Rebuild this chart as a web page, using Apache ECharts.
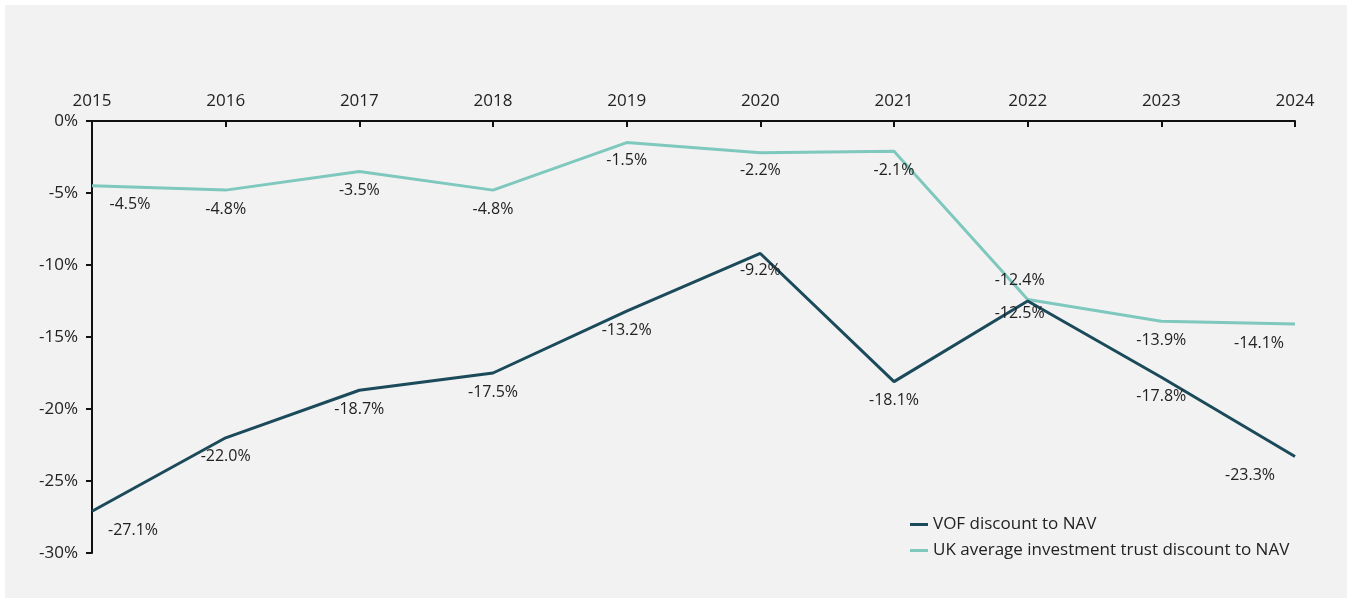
<!DOCTYPE html>
<html>
<head>
<meta charset="utf-8">
<script src="https://cdn.jsdelivr.net/npm/echarts@6/dist/echarts.min.js"></script>
<style>
  html, body { margin: 0; padding: 0; background: #ffffff; }
  #bg { position: absolute; left: 5px; top: 5px; width: 1342px; height: 593px; background: #f2f2f2; }
  #chart { position: absolute; left: 0; top: 0; width: 1352px; height: 603px; }
</style>
</head>
<body>
<div id="bg"></div>
<div id="chart"></div>
<script>
const years = ['2015','2016','2017','2018','2019','2020','2021','2022','2023','2024'];
const vofDiscount = [-27.1, -22.0, -18.7, -17.5, -13.2, -9.2, -18.1, -12.5, -17.8, -23.3];
const ukDiscount = [-4.5, -4.8, -3.5, -4.8, -1.5, -2.2, -2.1, -12.4, -13.9, -14.1];
const seriesNames = ['VOF discount to NAV', 'UK average investment trust discount to NAV'];

// label placement tweaks (styles, kept apart from data)
const vofLabelOffsets = [[41,0],[0,0],[0,0],[0,0],[0,0],[0,-2],[0,0],[-8,-7],[0,0],[-45,0]];
const ukLabelOffsets = [[38,0],[0,0],[0,0],[0,0],[0,-1],[0,-1],[0,0],[-8,0],[0,0],[-36,0]];
const ukLabelPos = ['bottom','bottom','bottom','bottom','bottom','bottom','bottom','top','bottom','bottom'];

const FONT = '"Open Sans", Lato, sans-serif';

function buildData(values, offsets, positions) {
  return values.map((v, i) => ({
    value: v,
    label: { offset: offsets[i], position: positions ? positions[i] : 'bottom' }
  }));
}

const chart = echarts.init(document.getElementById('chart'));
chart.setOption({
  backgroundColor: 'transparent',
  animation: false,
  textStyle: { fontFamily: FONT },
  grid: { left: 92, right: 57, top: 121, bottom: 50 },
  legend: {
    orient: 'vertical',
    left: 905,
    top: 511,
    itemWidth: 18,
    itemHeight: 3,
    itemGap: 9,
    icon: 'rect',
    textStyle: { fontSize: 17, color: '#222', fontFamily: FONT },
    data: seriesNames
  },
  xAxis: {
    type: 'category',
    position: 'top',
    boundaryGap: false,
    data: years,
    axisLine: { lineStyle: { color: '#111', width: 2 } },
    axisTick: { inside: true, length: 6, lineStyle: { color: '#111', width: 2 } },
    axisLabel: { fontSize: 17, color: '#222', margin: 11, fontFamily: FONT },
    splitLine: { show: false }
  },
  yAxis: {
    type: 'value',
    min: -30,
    max: 0,
    interval: 5,
    axisLine: { show: true, lineStyle: { color: '#111', width: 2 } },
    axisTick: { show: true, length: 6, lineStyle: { color: '#111', width: 2 } },
    axisLabel: { fontSize: 17, color: '#222', margin: 14, formatter: '{value}%', fontFamily: FONT },
    splitLine: { show: false }
  },
  series: [
    {
      name: seriesNames[0],
      type: 'line',
      data: buildData(vofDiscount, vofLabelOffsets),
      color: '#1b4a5a',
      lineStyle: { width: 3, color: '#1b4a5a' },
      symbol: 'circle',
      symbolSize: 0,
      showSymbol: true,
      label: {
        show: true,
        position: 'bottom',
        distance: 11,
        fontSize: 16,
        color: '#222',
        fontFamily: FONT,
        formatter: p => p.value.toFixed(1) + '%'
      },
      z: 3
    },
    {
      name: seriesNames[1],
      type: 'line',
      data: buildData(ukDiscount, ukLabelOffsets, ukLabelPos),
      color: '#7ec8bd',
      lineStyle: { width: 3, color: '#7ec8bd' },
      symbol: 'circle',
      symbolSize: 0,
      showSymbol: true,
      label: {
        show: true,
        position: 'bottom',
        distance: 11,
        fontSize: 16,
        color: '#222',
        fontFamily: FONT,
        formatter: p => p.value.toFixed(1) + '%'
      },
      z: 2
    }
  ]
});
</script>
</body>
</html>
